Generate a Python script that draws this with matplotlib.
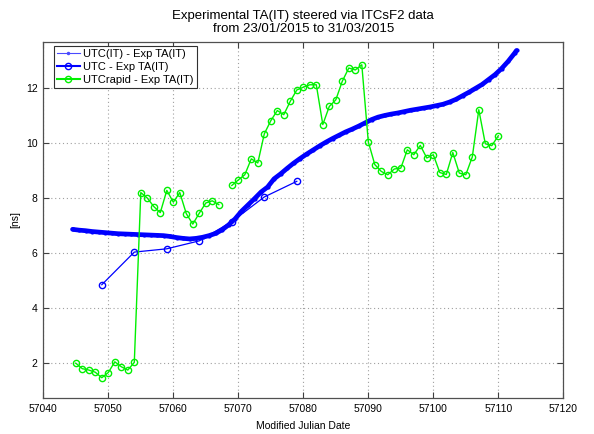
import numpy as np
import matplotlib
matplotlib.use("Agg")
import matplotlib.pyplot as plt
from matplotlib.lines import Line2D

plt.rcParams['font.family'] = ['Liberation Sans', 'DejaVu Sans']

# UTC(IT) - Exp TA(IT) (dense series)
mjd_utcit = [57044.5, 57045.5, 57046.5, 57047.5, 57048.5, 57049.5, 57050.5, 57051.5,
             57052.5, 57053.5, 57054.5, 57055.5, 57056.5, 57057.5, 57058.5, 57059.5,
             57060.5, 57061.5, 57062.5, 57063.5, 57064.5, 57065.5, 57066.5, 57067.5,
             57068.5, 57069.5, 57070.5, 57071.5, 57072.5, 57073.5, 57074.5, 57075.5,
             57076.5, 57077.5, 57078.5, 57079.5, 57080.5, 57081.5, 57082.5, 57083.5,
             57084.5, 57085.5, 57086.5, 57087.5, 57088.5, 57089.5, 57090.5, 57091.5,
             57092.5, 57093.5, 57094.5, 57095.5, 57096.5, 57097.5, 57098.5, 57099.5,
             57100.5, 57101.5, 57102.5, 57103.5, 57104.5, 57105.5, 57106.5, 57107.5,
             57108.5, 57109.5, 57110.5, 57111.5, 57112.5, 57112.8]
val_utcit = [6.86, 6.83, 6.81, 6.78, 6.76, 6.74, 6.72, 6.70,
             6.69, 6.68, 6.67, 6.66, 6.65, 6.64, 6.63, 6.60,
             6.56, 6.53, 6.51, 6.53, 6.57, 6.63, 6.71, 6.84,
             7.02, 7.24, 7.52, 7.75, 7.98, 8.22, 8.40, 8.70,
             8.88, 9.08, 9.27, 9.44, 9.60, 9.75, 9.90, 10.04,
             10.17, 10.29, 10.41, 10.51, 10.62, 10.74, 10.86, 10.95,
             11.01, 11.06, 11.10, 11.15, 11.20, 11.24, 11.28, 11.32,
             11.37, 11.42, 11.50, 11.60, 11.73, 11.86, 12.00, 12.14,
             12.32, 12.50, 12.72, 12.98, 13.28, 13.38]

# UTC - Exp TA(IT)
mjd_utc = [57049, 57054, 57059, 57064, 57069, 57074, 57079]
val_utc = [4.84, 6.03, 6.15, 6.44, 7.14, 8.04, 8.61]

# UTCrapid - Exp TA(IT)
mjd_rapid = list(range(57045, 57111))
val_rapid = [1.98, 1.78, 1.73, 1.65, 1.45, 1.64, 2.03, 1.85, 1.73, 2.01,
             8.20, 8.00, 7.69, 7.47, 8.28, 7.85, 8.20, 7.43, 7.05, 7.45,
             7.82, 7.90, 7.76, np.nan, 8.46, 8.66, 8.85, 9.43, 9.28, 10.34,
             10.82, 11.19, 11.04, 11.53, 11.94, 12.04, 12.13, 12.13, 10.68, 11.34,
             11.58, 12.26, 12.74, 12.67, 12.86, 10.05, 9.22, 8.97, 8.85, 9.06,
             9.09, 9.76, 9.58, 9.92, 9.46, 9.58, 8.93, 8.86, 9.66, 8.91,
             8.85, 9.50, 11.22, 9.98, 9.91, 10.27]

labels = ['UTC(IT) - Exp TA(IT)', 'UTC - Exp TA(IT)', 'UTCrapid - Exp TA(IT)']
xticks = [57040, 57050, 57060, 57070, 57080, 57090, 57100, 57110, 57120]
yticks = [2, 4, 6, 8, 10, 12]

BLUE = '#0000ff'
GREEN = '#00f000'

fig = plt.figure(figsize=(5.94, 4.34), dpi=100)
ax = fig.add_axes([43.3 / 594, 1 - 398.3 / 434, 520 / 594, 356.6 / 434])

ax.plot(mjd_utcit, val_utcit, color=BLUE, lw=3.4, marker='.', ms=4,
        solid_capstyle='round', zorder=3)
ax.plot(mjd_utc, val_utc, color=BLUE, lw=0.9, marker='o', ms=4.5,
        mfc='none', mew=1.0, zorder=4)
ax.plot(mjd_rapid, val_rapid, color=GREEN, lw=1.0, marker='o', ms=4.5,
        mfc='none', mew=1.0, zorder=5)

ax.set_xlim(57040, 57120)
ax.set_ylim(0.7, 13.7)
ax.set_xticks(xticks)
ax.set_yticks(yticks)
ax.set_xticklabels([str(t) for t in xticks])
ax.set_yticklabels([str(t) for t in yticks])
ax.tick_params(direction='in', top=True, right=True, labelsize=7.5,
               length=4, width=0.8, colors='#404040', labelcolor='black', pad=4)
ax.grid(True, linestyle=(0, (1, 2.5)), color='#a0a0a0', lw=0.8)
for s in ax.spines.values():
    s.set_color('#505050')
    s.set_linewidth(0.9)

ax.set_xlabel('Modified Julian Date', fontsize=7.5, labelpad=5)
ax.set_ylabel('[ns]', fontsize=7.5, labelpad=4)
ax.set_title('Experimental TA(IT) steered via ITCsF2 data\nfrom 23/01/2015 to 31/03/2015',
             fontsize=9.5, pad=7, linespacing=1.1)

handles = [
    Line2D([], [], color='#4a4aff', lw=0.8, marker='.', ms=3),
    Line2D([], [], color=BLUE, lw=1.5, marker='o', ms=4.5, mfc='none', mew=1.0),
    Line2D([], [], color=GREEN, lw=1.5, marker='o', ms=4.5, mfc='none', mew=1.0),
]
leg = ax.legend(handles, labels, loc='upper left',
                bbox_to_anchor=((54 - 43.3) / 520, 1 - (46 - 41.7) / 356.6),
                borderaxespad=0, fontsize=8, frameon=True, fancybox=False,
                edgecolor='#303030', framealpha=1, handlelength=2.0,
                handletextpad=0.3, labelspacing=0.25, borderpad=0.3)
leg.get_frame().set_linewidth(0.8)
leg.set_zorder(10)

fig.savefig('out.png', dpi=100)
